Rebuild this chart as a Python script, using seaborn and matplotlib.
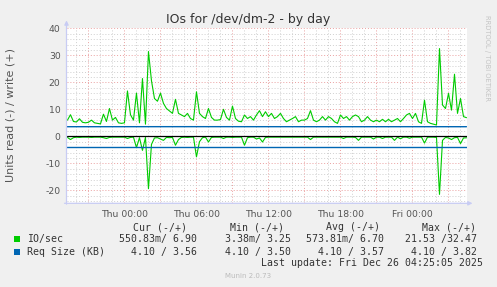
import matplotlib
matplotlib.use("Agg")
import matplotlib.pyplot as plt
import seaborn as sns
import numpy as np
import pandas as pd
from matplotlib.patches import Rectangle
from matplotlib.ticker import FixedLocator, MultipleLocator

# ---------------- data ----------------
start_hour = -4.75          # hours relative to Thu 00:00
step_hours = 0.25
io_write = [6.0, 8.0, 5.5, 5.3, 6.5, 5.2, 5.0, 5.2, 6.0, 5.0,
            4.8, 4.6, 8.2, 5.5, 10.3, 6.0, 7.0, 5.0, 4.8, 5.0,
            16.8, 8.0, 6.0, 16.0, 5.0, 21.4, 4.5, 31.4, 20.6, 14.0,
            13.0, 16.0, 12.2, 10.3, 9.4, 8.5, 13.7, 8.5, 7.9, 7.3,
            8.5, 6.6, 6.0, 16.5, 8.5, 7.3, 6.6, 10.3, 7.0, 6.0,
            6.0, 6.2, 10.0, 7.0, 6.0, 11.2, 6.6, 5.6, 5.4, 7.9,
            6.6, 7.3, 6.0, 7.9, 9.5, 7.3, 9.1, 7.3, 8.5, 6.6,
            7.3, 8.5, 6.6, 5.4, 6.0, 6.6, 7.3, 5.4, 6.0, 6.0,
            6.6, 9.5, 6.0, 5.4, 6.0, 7.3, 6.0, 7.3, 6.6, 5.4,
            4.8, 7.9, 6.6, 7.3, 6.0, 7.3, 7.9, 7.3, 5.4, 6.0,
            7.3, 6.0, 5.4, 6.0, 5.4, 6.3, 5.4, 6.3, 5.4, 6.0,
            6.6, 5.4, 6.6, 7.9, 8.5, 6.6, 8.5, 5.4, 4.8, 13.4,
            5.4, 4.8, 4.5, 4.2, 32.5, 11.6, 10.3, 15.9, 9.7, 23.0,
            8.5, 14.0, 7.3, 6.9]
io_read = [0.4, 1.2, 0.5, 0.3, 0.4, 0.3, 0.3, 0.3, 0.4, 0.3,
           0.3, 0.3, 0.5, 0.8, 0.4, 0.3, 0.3, 0.3, 0.3, 0.3,
           0.8, 0.4, 0.3, 4.2, 0.5, 5.2, 0.4, 19.4, 3.0, 0.6,
           0.5, 1.0, 1.5, 0.4, 0.5, 0.4, 3.3, 1.2, 0.4, 0.3,
           0.4, 0.3, 0.3, 7.6, 2.0, 0.5, 0.3, 2.1, 0.4, 0.3,
           0.3, 0.3, 0.8, 0.3, 0.3, 0.4, 0.3, 0.3, 0.3, 3.3,
           0.5, 0.3, 0.3, 1.0, 0.6, 2.1, 0.4, 0.3, 0.3, 0.3,
           0.3, 0.3, 0.3, 0.3, 0.3, 0.3, 0.3, 0.3, 0.3, 0.3,
           0.3, 1.2, 0.3, 0.3, 0.3, 0.3, 0.3, 0.3, 0.3, 0.3,
           0.3, 0.3, 0.8, 0.3, 0.3, 0.3, 0.4, 1.5, 0.3, 0.3,
           0.3, 0.3, 1.0, 0.3, 0.3, 0.8, 0.3, 0.3, 0.3, 1.5,
           0.3, 0.9, 0.3, 0.3, 0.7, 0.3, 0.3, 0.3, 0.3, 2.5,
           0.3, 0.3, 0.3, 0.4, 21.5, 1.5, 0.4, 0.6, 1.2, 0.5,
           0.4, 2.7, 0.6, 0.55]
req_hours = [-4.83, 0, 6, 12, 18, 24, 28.5]
req_write = [3.56, 3.57, 3.58, 3.57, 3.56, 3.57, 3.56]
req_read = [4.10, 4.10, 4.10, 4.10, 4.10, 4.10, 4.10]

tick_hours = [0, 6, 12, 18, 24]
tick_labels = ["Thu 00:00", "Thu 06:00", "Thu 12:00", "Thu 18:00", "Fri 00:00"]
y_ticks = [-20, -10, 0, 10, 20, 30, 40]

legend_headers = ["Cur (-/+)", "Min (-/+)", "Avg (-/+)", "Max (-/+)"]
legend_names = ["IO/sec", "Req Size (KB)"]
legend_values = [["550.83m/ 6.90", "3.38m/ 3.25", "573.81m/ 6.70", "21.53 /32.47"],
                 ["4.10 / 3.56", "4.10 / 3.50", "4.10 / 3.57", "4.10 / 3.82"]]
series_colors = ["#00CC00", "#0066B3"]

# ---------------- figure ----------------
sns.set_theme(style="white")
plt.rcParams['font.family'] = ['DejaVu Sans']

W, H = 497, 287
fig = plt.figure(figsize=(W / 100, H / 100), dpi=100, facecolor="#F0F0F0")
ax = fig.add_axes([66.5 / W, 1 - 203.3 / H, 400 / W, 175 / H])
ax.set_facecolor("white")

hours = start_hour + step_hours * np.arange(len(io_write))
df = pd.DataFrame({"hour": hours, "write": io_write,
                   "read": -np.array(io_read)})
rq = pd.DataFrame({"hour": req_hours, "write": req_write,
                   "read": -np.array(req_read)})

xmin, xmax = -4.83, 28.5
ymin, ymax = -24.8, 40
ax.set_xlim(xmin, xmax)
ax.set_ylim(ymin, ymax)

# grid
ax.xaxis.set_major_locator(MultipleLocator(3))
ax.xaxis.set_minor_locator(MultipleLocator(1))
ax.yaxis.set_major_locator(MultipleLocator(10))
ax.yaxis.set_minor_locator(MultipleLocator(2))
ax.grid(which="minor", color="#CFCFCF", linestyle=(0, (1, 2)), linewidth=0.7)
ax.grid(which="major", color="#EAA0A0", linestyle=(0, (1, 2)), linewidth=0.7)
ax.set_axisbelow(True)

sns.lineplot(data=df, x="hour", y="write", ax=ax, color=series_colors[0],
             linewidth=0.8, estimator=None)
sns.lineplot(data=df, x="hour", y="read", ax=ax, color=series_colors[0],
             linewidth=0.8, estimator=None)
sns.lineplot(data=rq, x="hour", y="write", ax=ax, color=series_colors[1],
             linewidth=1.0, estimator=None)
sns.lineplot(data=rq, x="hour", y="read", ax=ax, color=series_colors[1],
             linewidth=1.0, estimator=None)
ax.axhline(0, color="black", linewidth=0.9, zorder=3)

# ticks
major_x = np.arange(-3, 28.5, 3)
ax.set_xticks(major_x)
ax.set_xticklabels([tick_labels[tick_hours.index(int(h))] if int(h) in tick_hours else ""
                    for h in major_x])
ax.set_yticks(y_ticks)
ax.set_yticklabels([str(v) for v in y_ticks])
ax.tick_params(axis="both", which="both", length=0, labelsize=6.7,
               labelcolor="#555555")
ax.tick_params(axis="x", pad=4.6)
ax.tick_params(axis="y", pad=4.3)
ax.set_xlabel("")
ax.set_ylabel("")

for s in ax.spines.values():
    s.set_visible(False)

axis_color = "#C8CCF4"
ax.annotate("", xy=(0, 1.045), xytext=(0, -0.005), xycoords="axes fraction",
            arrowprops=dict(arrowstyle="-|>", color=axis_color, lw=0.9,
                            mutation_scale=6, shrinkA=0, shrinkB=0))
ax.annotate("", xy=(1.015, 0), xytext=(-0.005, 0), xycoords="axes fraction",
            arrowprops=dict(arrowstyle="-|>", color=axis_color, lw=0.9,
                            mutation_scale=6, shrinkA=0, shrinkB=0))

# texts
fig.text(248.5 / W, 1 - 20 / H, "IOs for /dev/dm-2 - by day", ha="center",
         va="center", fontsize=9, color="#333333")
fig.text(10.5 / W, 1 - 115 / H, "Units read (-) / write (+)", rotation=90,
         ha="center", va="center", fontsize=8, color="#555555")
fig.text(487 / W, 1 - 58 / H, "RRDTOOL / TOBI OETIKER", rotation=270,
         ha="center", va="center", fontsize=4.9, color="#C4C4C4")

mono = "DejaVu Sans Mono"
fs = 7.1
tc = "#333333"
header_right = [187.3, 284, 380, 476]
value_right = [196.7, 290.7, 384, 476.7]
row_y = [239.3, 251.7]
for hx, htxt in zip(header_right, legend_headers):
    fig.text(hx / W, 1 - 227.3 / H, htxt, ha="right", va="center",
             family=mono, fontsize=fs, color=tc)
for r, (name, vals) in enumerate(zip(legend_names, legend_values)):
    yy = 1 - row_y[r] / H
    fig.patches.append(Rectangle((14 / W, yy - 3 / H), 6 / W, 6 / H,
                                 transform=fig.transFigure,
                                 facecolor=series_colors[r], edgecolor="none"))
    fig.text(26.7 / W, yy, name, ha="left", va="center", family=mono,
             fontsize=fs, color=tc)
    for vx, vtxt in zip(value_right, vals):
        fig.text(vx / W, yy, vtxt, ha="right", va="center", family=mono,
                 fontsize=fs, color=tc)
fig.text(482.7 / W, 1 - 263.3 / H, "Last update: Fri Dec 26 04:25:05 2025",
         ha="right", va="center", family=mono, fontsize=fs, color=tc)
fig.text(248 / W, 1 - 276 / H, "Munin 2.0.73", ha="center", va="center",
         fontsize=5, color="#BBBBBB")

fig.savefig("out.png", dpi=100, facecolor=fig.get_facecolor())
